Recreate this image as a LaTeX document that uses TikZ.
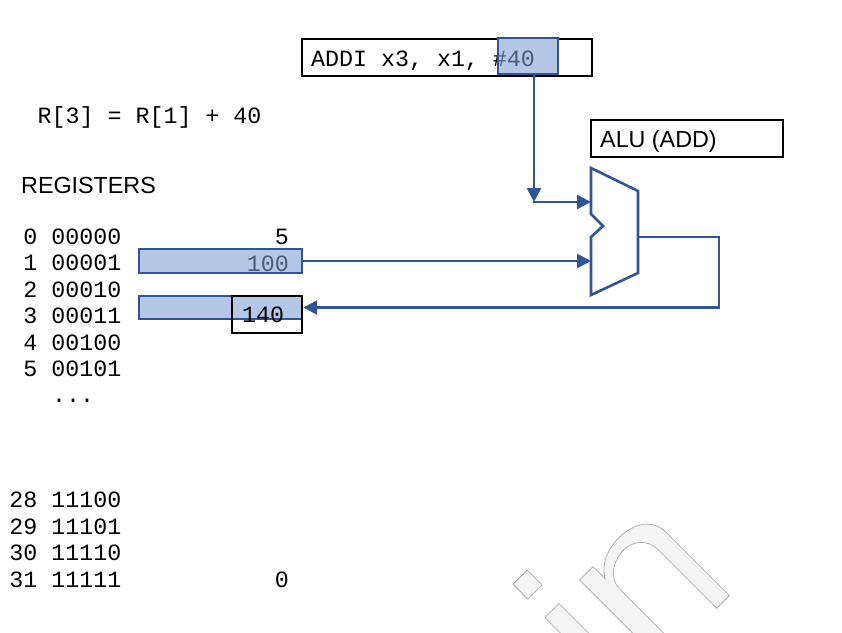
\documentclass[tikz,border=0pt]{standalone}
\usepackage{fontspec}
\setmainfont{Liberation Sans}
\newfontfamily\monof{Liberation Mono}
\usetikzlibrary{arrows.meta}
\definecolor{lineblue}{RGB}{47,85,151}
\definecolor{fillblue}{RGB}{180,199,231}
\definecolor{hitext}{RGB}{72,92,122}
\begin{document}
\begin{tikzpicture}[x=1pt,y=-1pt,
  mono/.style={font=\monof\fontsize{23.3}{23.3}\selectfont, inner sep=0pt},
  sans/.style={font=\fontsize{23.3}{23.3}\selectfont, inner sep=0pt},
  blackbox/.style={draw=black, line width=2pt, inner sep=0pt},
  hibox/.style={draw=lineblue, fill=fillblue, line width=2.4pt, inner sep=0pt},
  wire/.style={draw=lineblue, line width=2.6pt},
  arr/.style={wire, -{Triangle[length=14pt,width=14pt]}},
  wm/.style={fill=black!4, draw=black!30, line width=0.8pt}
]
\useasboundingbox (0,0) rectangle (842,632);

% watermark
\begin{scope}
  \clip (0,0) rectangle (842,632);
  \begin{scope}[shift={(600,650)}, x={(0.7071pt,0.7071pt)}, y={(-0.7071pt,0.7071pt)}]
    \path[wm] (-15,87) -- (5,87) -- (5,108) -- (-15,108) -- cycle;
    \path[wm] (-16,-80) -- (4,-80) -- (4,62) -- (-16,62) -- cycle;
    \path[wm] (35,-80) -- (35,64) -- (54,64) -- (54,47)
      .. controls (62,60) and (76,66) .. (92,66)
      .. controls (115,66) and (130,55) .. (130,36)
      -- (130,-53) -- (112,-53) -- (112,30)
      .. controls (112,45) and (100,54) .. (88,54)
      .. controls (72,54) and (58,45) .. (57,30)
      -- (57,-80) -- cycle;
  \end{scope}
\end{scope}

% instruction
\node[blackbox, minimum width=290pt, minimum height=37pt] (instr) at (447,57.5) {};
\node[mono, anchor=base west] (instrtxt) at (311,66) {ADDI x3, x1, \#40};
\node[hibox, minimum width=60pt, minimum height=36pt] (hi40) at (528,56) {};
\begin{scope}
  \clip (499,39) rectangle (557,73);
  \node[mono, anchor=base west, text=hitext] (instrtxt2) at (311,66) {ADDI x3, x1, \#40};
\end{scope}

% equation and heading
\node[mono, anchor=base west] (eq) at (37.5,123) {R[3] = R[1] + 40};
\node[sans, anchor=base west] (regs) at (21,193) {REGISTERS};

% ALU label
\node[blackbox, minimum width=192pt, minimum height=37pt] (alulab) at (687,138.5) {};
\node[sans, anchor=base west] (alutxt) at (600,147) {ALU (ADD)};

% register bars
\node[hibox, minimum width=163pt, minimum height=24pt] (bar1) at (220.5,261) {};
\node[mono, anchor=base east, text=hitext] (v1) at (289,271) {100};
\node[hibox, minimum width=163pt, minimum height=23pt] (bar3) at (220.5,307.5) {};
\node[blackbox, minimum width=70pt, minimum height=37pt] (box140) at (267,314.5) {};
\node[mono, anchor=base west] (v3) at (242,322) {140};

% register list
\foreach \n/\b/\yy in {0/00000/244.5, 1/00001/270.5, 2/00010/297, 3/00011/323.5,
  4/00100/350, 5/00101/376.5, 28/11100/507.5, 29/11101/534, 30/11110/560.5, 31/11111/587}
  \node[mono, anchor=base east] (r\n) at (121.5,\yy) {\n\ \b};
\node[mono, anchor=base west] (dots) at (52,402) {...};
\node[mono, anchor=base east] (v0) at (289,244.5) {5};
\node[mono, anchor=base east] (v31) at (289,587) {0};

% ALU
\coordinate (a1) at (591,168);
\coordinate (a2) at (638,191);
\coordinate (a3) at (638,273);
\coordinate (a4) at (591,295);
\coordinate (a5) at (591,237);
\coordinate (a6) at (603,226);
\coordinate (a7) at (591,214);
\draw[wire, line join=miter] (a1) -- (a2) -- (a3) -- (a4) -- (a5) -- (a6) -- (a7) -- cycle;
\coordinate (in1) at (591,203);
\coordinate (in2) at (591,261);
\coordinate (out) at (638,237);
\coordinate (j) at (534,202);
\coordinate (rt) at (719,237);

% connectors
\draw[arr] (hi40.south -| j) -- (j);
\draw[arr] ([xshift=-1.3pt]j) -- (j -| in1);
\draw[arr] (bar1.east) -- (in2);
\draw[arr] (out) -- (rt) |- (bar3.east);
\end{tikzpicture}
\end{document}
